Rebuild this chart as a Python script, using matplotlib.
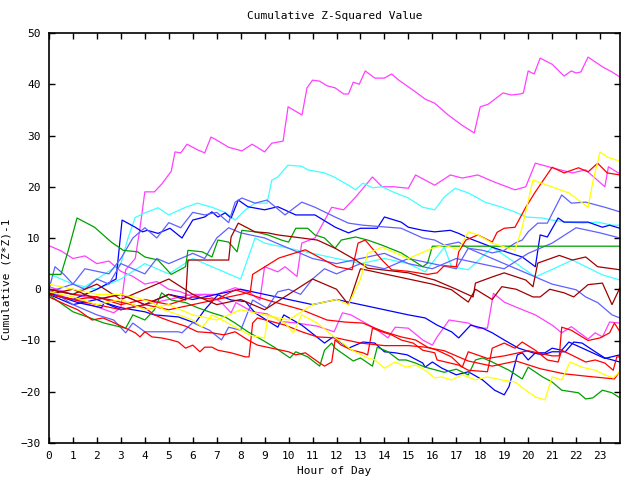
import matplotlib
matplotlib.use("Agg")
import matplotlib.pyplot as plt

# gnuplot-like colours seen in the picture
MAGENTA = "#ff40ff"
CYAN = "#40ffff"
BLUE = "#0000ff"
SLATE = "#6060ff"
RED = "#ff0000"
DRED = "#a00000"
GREEN = "#00a000"
YELLOW = "#ffff00"

# each series: hours and cumulative values
m1_h = [0, 1, 2.1, 2.7, 3.0, 3.2, 3.6, 3.8, 4, 4.4, 4.7, 5.1, 5.26, 5.5, 5.76, 6.2, 6.5, 6.76, 7.0, 7.5, 8.05, 8.48,
        9.0, 9.3, 9.77, 9.98, 10.56, 10.77, 11.0, 11.3, 11.6, 11.94, 12.3, 12.5, 12.7, 12.95, 13.2, 13.6, 14.0, 14.3,
        14.6, 15.3, 15.7, 16.1, 16.66, 17.24, 17.75, 18.0, 18.33, 18.95, 19.3, 19.67, 19.8, 20.0, 20.25, 20.5, 21.0,
        21.5, 21.8, 22.0, 22.2, 22.5, 23.1, 23.5, 23.83]
m1_v = [-0.5, -2, -3.6, -4.6, -3.6, 3.8, 6, 12, 19, 19, 20.5, 23, 26.8, 26.6, 28.3, 27.2, 26.6, 29.7, 29.1, 27.7, 27.0,
        28.3, 26.8, 28.5, 28.9, 35.6, 34, 39.3, 40.8, 40.6, 39.7, 39.3, 38.1, 38.1, 40.4, 40, 42.6, 41.2, 41.2, 42,
        40.8, 38.5, 37.1, 36.3, 34, 32, 30.5, 35.6, 36.1, 38.3, 37.9, 38.1, 38.3, 42.6, 42, 45.1, 43.9, 41.6, 42.6,
        42.2, 42.4, 45.3, 43.4, 42.4, 41.4]

m2_h = [0, 0.5, 1, 1.5, 2, 2.5, 3, 3.5, 4, 4.5, 5, 5.5, 6, 6.5, 7, 7.2, 7.6, 7.8, 8.5, 9.1, 9.7, 10.35, 11.2, 11.9,
        12.25, 12.6, 13.6, 14.15, 14.45, 15.0, 15.6, 16.0, 16.2, 16.7, 17.5, 17.9, 18.3, 18.55, 19.0, 19.5, 20.3,
        21.0, 21.4, 21.8, 22.5, 22.8, 23.1, 23.4, 23.83]
m2_v = [8.5, 7.5, 6, 6.5, 5, 5.5, 3.5, 2.5, 1, 1.5, 0, -0.5, -1.5, -1, -2, -2.6, -4.6, -2.6, -4.4, -4.8, -6.3, -6.6,
        -7.2, -8.3, -4.6, -5, -7.6, -9.5, -7.4, -7.6, -9.9, -10.9, -9.3, -6, -6.6, -7.6, -7.6, -0.8, -2.5, -3.5, -5,
        -7, -8.5, -7.3, -9.7, -8.5, -9.3, -6.4, -6.6]

m3_h = [0, 1, 2, 3, 4, 5, 6, 7, 7.77, 8.4, 8.8, 9.0, 9.55, 9.85, 10.35, 10.55, 11.1, 11.8, 12.3, 12.8, 13.5, 13.9,
        14.4, 15.0, 15.3, 16.1, 16.75, 17.25, 17.9, 18.6, 19.45, 19.9, 20.3, 21.0, 21.85, 22.4, 23.2, 23.35, 23.83]
m3_v = [0.5, -1, -2, -1, -3, -2, -1, -1, 0.3, -0.7, -2.1, 4.4, 3.4, 4.4, 2.5, 9.0, 10, 16, 15.5, 18, 21.9, 20, 20,
        19.7, 22.3, 20.3, 22.3, 21.7, 22.3, 20.9, 19.4, 20, 24.6, 23.7, 22.7, 23.3, 20, 23.9, 22.5]

c1_h = [0, 1, 2, 3, 3.3, 3.6, 4.0, 4.55, 5.0, 5.7, 6.2, 6.8, 7.35, 7.77, 8.2, 8.6, 9.1, 9.3, 9.55, 9.97, 10.55, 10.8,
        11.5, 11.9, 12.5, 12.8, 13.1, 13.5, 13.9, 14.45, 15.0, 15.6, 16.1, 16.5, 16.95, 17.5, 18.2, 18.9, 19.45,
        19.9, 20.6, 21.0, 21.55, 22.25, 22.9, 23.5, 23.83]
c1_v = [0, -1, 2, 5, 10, 14, 14.9, 15.9, 14.5, 16, 16.8, 16, 15, 13.5, 15.5, 16.8, 16.8, 21.3, 21.9, 24.2, 24, 23.3,
        22.7, 21.9, 20.3, 19.4, 20.7, 19.8, 20, 18.8, 17.8, 16, 15.5, 18, 19.7, 18.8, 17, 16, 15.1, 14.1, 13.9,
        13.5, 13.1, 12.9, 13.1, 12.5, 12.5]

c2_h = [0, 1, 2, 3, 4, 5, 6, 7, 8, 8.6, 9, 10, 11, 12, 13, 14, 15, 15.7, 16.5, 16.8, 17.5, 18.5, 19.3, 20.3, 21.25,
        21.85, 23.1, 23.83]
c2_v = [3, 1, 0, 2, 5, 3, 6, 4, 2, 10, 9, 8, 7, 6, 5, 6, 5, 3.4, 8.2, 4.4, 3.8, 8.2, 5.7, 2.4, 4.4, 5.7, 2.8, 1.8]

b1_h = [0, 1, 2, 2.8, 3.05, 3.6, 3.9, 4.1, 4.55, 5.05, 5.55, 6.0, 6.5, 6.8, 7.05, 7.35, 7.6, 7.9, 8.3, 9.0, 9.55,
        10.3, 11.1, 11.95, 12.5, 13.0, 13.7, 14.0, 14.7, 15.0, 15.6, 16.1, 16.75, 17.1, 17.5, 18.5, 19.2, 19.75,
        20.3, 20.5, 20.8, 21.25, 21.5, 22.5, 23.1, 23.4, 23.83]
b1_v = [-1, -2, 0, 2, 13.5, 12.1, 11.2, 11.5, 10.9, 11.9, 10, 13.5, 14.1, 15.1, 14.1, 14.9, 13.9, 17.4, 16.1, 15.5,
        16.1, 14.5, 14.5, 12.1, 11, 11.9, 11.9, 14.1, 13.1, 12.1, 11.5, 11.2, 11.5, 10.9, 10, 8.2, 7.1, 6.3, 4.4,
        10.6, 10.2, 13.9, 13.1, 13.1, 12.1, 12.5, 11.9]

s1_h = [0, 1, 1.5, 2.5, 3, 3.5, 4, 4.5, 5, 5.5, 6, 6.5, 7, 7.5, 7.77, 8.05, 8.6, 9.1, 9.85, 10.55, 11.1, 11.94, 12.5,
        13.1, 14.7, 15.6, 16.1, 16.5, 17.1, 17.5, 18.1, 18.5, 19.0, 19.45, 19.75, 20.0, 20.4, 20.8, 21.4, 21.8,
        22.4, 23.2, 23.83]
s1_v = [-0.5, 1, 4, 3, 6, 10, 12, 10, 13, 12, 15, 14.5, 15, 13, 17, 17.8, 16.8, 17.4, 14.5, 17, 16, 14.1, 12.9, 12.5,
        11.9, 10, 9.6, 8.6, 9.2, 8, 7.6, 7.1, 7.6, 9, 9.6, 11.2, 12.9, 12.9, 18.4, 16.8, 17, 16, 15.1]

s2_h = [0, 0.25, 0.6, 1, 1.5, 2, 2.5, 3, 3.5, 4, 4.5, 5, 6, 6.5, 7, 7.5, 8, 9, 10, 11, 12, 13, 14, 15, 16, 17, 18,
        19, 20, 21, 22, 23, 23.83]
s2_v = [0, 4.4, 3, 1, 0, 2, 1, 5, 4, 3, 6, 5, 7, 6, 10, 12, 11, 10, 8, 6, 5, 6, 7, 5, 4, 6, 5, 4, 7, 9, 12, 11, 10]

s3_h = [0, 1, 2, 2.7, 3.2, 3.5, 4, 5.4, 5.55, 6, 6.7, 7.2, 7.5, 8, 8.5, 9.1, 9.55, 10, 10.5, 11, 11.5, 12, 13, 14,
        15, 16, 17, 17.5, 18, 19, 20, 21, 22, 22.4, 22.9, 23.5, 23.83]
s3_v = [0, -3, -5, -6, -8.5, -6.6, -8.3, -8.3, -8.5, -6.5, -8, -9.9, -7.4, -8, -2.1, -3.7, -0.5, 0, -1, 2, 4, 3, 5,
        4, 6, 5, 4, 8, 7, 5, 3, 1, -0.1, -1.5, -2.6, -5, -5.6]

b2_h = [0, 1, 2, 3, 4, 5, 6, 7, 8, 9, 10, 11, 12, 13, 14, 15, 15.7, 16.2, 16.8, 17.1, 17.6, 18.1, 18.5, 19.0, 19.6,
        20.2, 20.6, 21.0, 21.55, 21.9, 22.25, 22.8, 23.2, 23.83]
b2_v = [-1, -3, -2, -4, -3, -1, -2, -1, 0, -1, -2, -3, -2, -3, -4, -5, -5.6, -7, -8.3, -9.5, -7, -7.6, -8.5, -9.9,
        -11.5, -12.4, -12.8, -12.2, -12.2, -10.3, -10.5, -12.2, -13.4, -14.2]

b3_h = [0, 1.2, 2.2, 2.3, 3, 3.5, 4, 4.4, 5.4, 6.1, 6.5, 7.05, 7.6, 8.2, 8.6, 9.55, 9.8, 10.55, 11.5, 11.86, 12.5,
        13.1, 13.6, 14.0, 14.45, 14.95, 15.6, 15.7, 16.0, 16.4, 17.0, 17.5, 18.1, 18.6, 19.0, 19.2, 19.55, 19.75,
        20.0, 20.3, 20.7, 21.0, 21.4, 21.7, 22.5, 23.2, 23.83]
b3_v = [-0.7, -2.6, -3.6, -2.6, -3.6, -4, -4.4, -5, -5.4, -6.6, -4, -1.1, -2.1, -2.4, -4.6, -7.4, -5, -7, -10.5,
        -9.3, -11.5, -10.3, -10.5, -12.2, -12.4, -12.8, -14.4, -15.2, -14.2, -15.4, -16.7, -16.1, -17.7, -19.7,
        -20.6, -19, -12.8, -12.4, -13.8, -12.4, -12.4, -11.5, -11.9, -10.3, -12, -13.5, -12.8]

g1_h = [0, 0.5, 0.8, 1.17, 1.9, 2.6, 3.1, 3.7, 4.0, 4.55, 5.1, 5.7, 5.8, 6.4, 6.8, 7.05, 7.5, 7.85, 8.05, 8.6, 9.14,
        9.7, 10.0, 10.3, 10.8, 11.1, 11.5, 11.94, 12.2, 12.8, 13.3, 13.9, 14.7, 15.3, 15.6, 15.8, 16.0, 23.83]
g1_v = [2.9, 2.9, 7.5, 13.9, 12.1, 9.2, 7.6, 7.3, 6.3, 5.7, 2.9, 4.4, 7.6, 7.3, 6.3, 9.6, 9.2, 7.3, 11.5, 11.2, 10.6,
        9.6, 9.2, 11.9, 11.9, 10.6, 10, 8, 9.6, 10.2, 9.6, 8.6, 7.1, 5.3, 4.4, 5.1, 8.4, 8.4]

g2_h = [0, 1.0, 1.6, 2.3, 3.2, 3.5, 4.0, 4.4, 4.7, 5.1, 5.7, 6.2, 6.8, 7.35, 7.77, 8.3, 8.9, 9.4, 10.06, 10.3, 10.8,
        11.3, 11.5, 11.8, 11.94, 12.7, 13.0, 13.5, 13.7, 14.15, 14.6, 14.9, 15.3, 15.7, 16.5, 17.0, 17.5, 17.8, 18.1,
        18.5, 19.2, 19.75, 20.0, 20.6, 21.0, 21.4, 22.1, 22.4, 22.7, 23.1, 23.5, 23.83]
g2_v = [-1.1, -4.4, -5.4, -6.6, -7.6, -5, -6, -4, -0.7, -2.1, -2.6, -3.6, -4.6, -5.4, -6.6, -8.3, -9.9, -11.3, -13.4,
        -12.2, -13.2, -15, -11.9, -10.5, -11.5, -14, -13.4, -15, -11.3, -12.2, -13.8, -13.8, -14.4, -15.2, -16.2,
        -15.6, -16.7, -13.8, -13.4, -14.2, -15.8, -17.5, -15.2, -17.1, -18.1, -19.7, -20.2, -21.4, -21.2, -19.7,
        -20.2, -21.2]

r1_h = [0, 1, 2, 3, 4, 5, 6, 7, 7.8, 8.4, 8.5, 9.6, 10.7, 12.0, 12.65, 12.9, 13.2, 13.9, 14.3, 15.0, 15.8, 16.2,
        16.5, 17.0, 17.1, 17.4, 17.9, 18.5, 18.7, 19.0, 19.45, 19.9, 20.3, 21.0, 21.5, 22.1, 22.5, 22.9, 23.3, 23.83]
r1_v = [-1, -2, -3, -4, -3, -4, -3, -2, -1.2, -0.6, 2.9, 6.1, 7.7, 4.4, 3.8, 9.0, 9.6, 5.7, 3.8, 3.5, 2.9, 3.2, 4.6,
        4.4, 7.3, 9.6, 10.6, 9.2, 11.1, 11.9, 12.1, 16, 19, 23.8, 22.7, 23.7, 22.9, 24.6, 22.7, 22.3]

r2_h = [0, 1, 2, 3, 4, 5, 6, 7, 7.77, 9.1, 10.55, 11.6, 12.35, 13.1, 13.5, 14, 14.7, 15.3, 15.8, 16.2, 16.8, 17.25,
        17.5, 18.3, 19, 20, 21, 21.3, 21.4, 21.8, 22.5, 23.0, 23.4, 23.6, 23.83]
r2_v = [-1, -2, -1.5, -3, -2, -3, -1.5, -2, -0.1, -2.1, -4, -6, -6.4, -6.6, -7.4, -8.3, -9.3, -9.9, -11.3, -11.9,
        -13.2, -15.2, -12.2, -13.5, -13, -12, -13, -13, -7.4, -8, -10, -9.5, -8.5, -6.6, -8.3]

r3_h = [0, 1, 2, 2.6, 4, 4.4, 4.7, 5.1, 5.7, 6.2, 6.8, 7.3, 7.77, 8.3, 8.7, 9.3, 10, 10.3, 10.7, 11, 11.3, 11.5, 11.8,
        11.94, 12.2, 12.65, 13.1, 13.3, 13.5, 13.9, 14.3, 14.7, 15.2, 15.6, 16.1, 16.2, 17.1, 17.5, 18.3, 18.5, 19.0,
        19.45, 19.75, 20.3, 20.8, 21.25, 21.4, 21.8, 22.4, 22.8, 23.2, 23.55, 23.7, 23.83]
r3_v = [0, -1, -1.5, -2.1, -3.6, -5, -5.6, -6.3, -7.2, -8.3, -8.5, -8.9, -8.3, -9.9, -10.9, -11.5, -12.2, -12.8,
        -12.4, -13.4, -14.4, -15, -14.2, -9.9, -10.9, -11.9, -12.4, -12.8, -7.6, -8.3, -8.9, -9.9, -10.5, -11.9,
        -12.4, -13.8, -14.8, -15.8, -16.1, -11.5, -10.5, -11.5, -10.3, -11.9, -13.8, -14.2, -11.9, -12.8, -14.2,
        -13.8, -14.4, -15.8, -13.2, -13.2]

r4_h = [0, 0.7, 1.2, 1.8, 2.25, 2.6, 3.2, 3.6, 3.8, 4.0, 4.3, 4.7, 5.1, 5.4, 5.7, 6.0, 6.3, 6.5, 6.8, 7.05, 7.6, 8.2,
        8.35, 8.5, 8.7, 9.3, 9.85, 10.55, 11.2, 12, 13, 14, 15, 15.7, 16.5, 17.5, 18.5, 19.5, 20.5, 21.5, 22.5, 23.6,
        23.83]
r4_v = [-1.5, -3, -4, -6, -5.6, -6.3, -7.6, -8.5, -9.3, -8.3, -9.3, -9.5, -9.9, -10.3, -11.5, -10.9, -12.2, -11.3,
        -11.3, -11.9, -12.4, -13.2, -13.2, -6.6, -5.6, -6.3, -7, -8.3, -9.3, -9.5, -10.5, -11, -11, -11.3, -12, -14,
        -15, -14, -15.5, -16.5, -17, -17.5, -16]

dr1_h = [0, 1, 2, 3, 4, 5, 5.7, 5.8, 6.5, 7.5, 7.6, 7.9, 8.6, 9.14, 9.55, 10.55, 11.2, 11.94, 12.8, 13.3, 13.9,
         15.0, 15.6, 16.1, 17.0, 17.7, 17.8, 18.5, 19.0, 19.9, 20.2, 20.4, 21.3, 21.85, 22.4, 22.9, 23.83]
dr1_v = [-1, 0, -2, -1, -3, -1, -2.1, 5.7, 5.7, 5.7, 10.2, 12.9, 11.2, 11, 10.6, 10, 9.6, 8, 5.7, 4.1, 3.8, 3.2, 2.4,
         1.8, 0, -1.5, 1.2, 2.4, 3.2, 1.8, 0.5, 5.1, 6.6, 5.7, 6.3, 4.4, 3.8]

dr2_h = [0, 1, 2, 3, 4, 5, 6, 7, 8, 9, 10, 11, 12, 12.5, 13, 14, 15, 16, 16.8, 17.5, 17.8, 18.5, 18.9, 19.5, 20.2,
         20.5, 20.9, 21.5, 21.9, 22.5, 23.1, 23.5, 23.83]
dr2_v = [0, -1, 1, -2, 0, 2, -1, -3, -2, -4, -1, 2, 0, -3, 4, 3, 2, 1, -0.1, -2.5, 0, -2, 0.5, 0, -1.5, -1.5, 0,
         -0.7, -1.5, 0.9, 1.2, -3, 0.3]

y1_h = [0, 1, 2, 3, 4, 5, 6, 7, 8, 9, 10, 11, 12, 12.5, 13, 13.3, 13.9, 15, 16, 16.5, 17.1, 17.5, 17.9, 18.5, 19.45,
        19.75, 20.2, 20.8, 21.7, 22.5, 22.7, 23.0, 23.3, 23.83]
y1_v = [-0.5, -1.5, -3, -2, -4, -3, -5, -6, -4, -5, -6, -3, -2, -3, 2, 7, 8.2, 6, 8, 8.6, 7.7, 11.2, 10.6, 9, 7.6,
        12.1, 21.3, 20.3, 18.8, 16, 21, 26.8, 25.8, 25]

y2_h = [0, 1, 2, 3, 3.7, 4.3, 4.8, 5.4, 6, 6.4, 6.8, 7.35, 7.77, 8.4, 9.0, 9.15, 9.85, 10.2, 10.55, 11.2, 11.9,
        12.65, 13.3, 13.6, 14.0, 14.45, 14.9, 15.3, 15.7, 16.1, 16.4, 16.8, 17.25, 17.8, 18.3, 18.9, 19.45, 19.9,
        20.3, 20.7, 21.0, 21.4, 21.75, 22.25, 22.8, 23.2, 23.55, 23.83]
y2_v = [1, 0, -1, -1, -1.7, -2.6, -4, -5, -6, -7.4, -5, -6.3, -7.4, -9, -9.5, -5, -6.6, -8.5, -5, -6.6, -9.3, -11.9,
        -13.4, -13.8, -15.4, -14.2, -15.2, -14.8, -15.8, -17.3, -17.1, -17.7, -16.7, -17.7, -17.1, -17.7, -18.1,
        -19.7, -21, -21.6, -17.1, -17.7, -14.2, -15.2, -15.8, -16.7, -17.3, -16.1]

series = [
    (m1_h, m1_v, MAGENTA), (m2_h, m2_v, MAGENTA), (m3_h, m3_v, MAGENTA),
    (c1_h, c1_v, CYAN), (c2_h, c2_v, CYAN),
    (b1_h, b1_v, BLUE), (b2_h, b2_v, BLUE), (b3_h, b3_v, BLUE),
    (s1_h, s1_v, SLATE), (s2_h, s2_v, SLATE), (s3_h, s3_v, SLATE),
    (g1_h, g1_v, GREEN), (g2_h, g2_v, GREEN),
    (r1_h, r1_v, RED), (r2_h, r2_v, RED), (r3_h, r3_v, RED), (r4_h, r4_v, RED),
    (dr1_h, dr1_v, DRED), (dr2_h, dr2_v, DRED),
    (y1_h, y1_v, YELLOW), (y2_h, y2_v, YELLOW),
]

plt.rcParams["font.family"] = "DejaVu Sans Mono"

fig = plt.figure(figsize=(6.4, 4.8), dpi=100)
ax = fig.add_axes([49 / 640, 1 - 443 / 480, 571 / 640, 410 / 480])

for h, v, c in series:
    ax.plot(h, v, color=c, linewidth=0.9)

ax.set_xlim(0, 23.833)
ax.set_ylim(-30, 50)
ax.set_xticks(range(24))
ax.set_yticks(range(-30, 51, 10))
ax.tick_params(direction="in", top=True, right=True, length=4, width=1, labelsize=8, pad=6)
for s in ax.spines.values():
    s.set_linewidth(1.2)

ax.set_title("Cumulative Z-Squared Value", fontsize=8, pad=10)
ax.set_xlabel("Hour of Day", fontsize=8, labelpad=3)
ax.set_ylabel("Cumulative (Z*Z)-1", fontsize=8)
ax.yaxis.set_label_coords(-0.065, 0.40)

fig.savefig("out.png", dpi=100)
